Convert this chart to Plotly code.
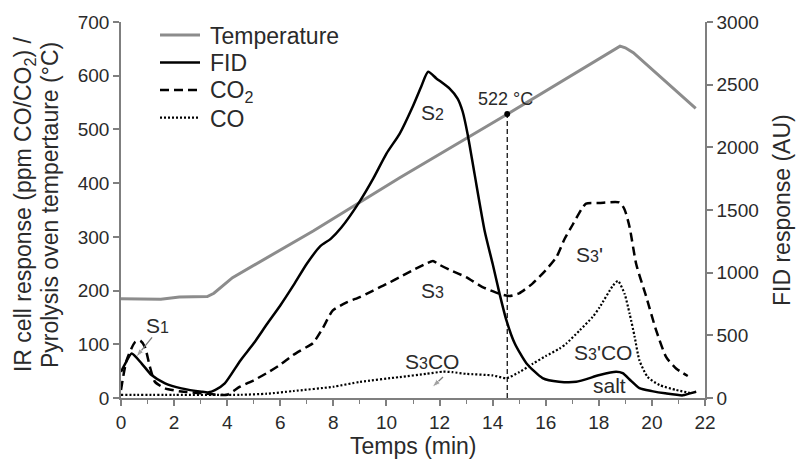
import numpy as np
import plotly.graph_objects as go

# ---------------- data ----------------
temp_t = [0, 1.5, 2.2, 3.25, 3.5, 4.2, 7.24, 10.5, 14.5, 18.6, 18.8, 19.0, 19.3, 21.65]
temp_v = [185, 184, 188, 189, 195, 224, 311, 410, 527, 650, 655, 652, 643, 539]

fid_t = [0, 0.15, 0.4, 0.78, 1.15, 1.66, 2.28, 3.04, 3.3, 3.54, 3.91, 4.5, 5.0, 5.5, 6.0,
         6.5, 7.0, 7.5, 7.9, 8.3, 9.0, 9.5, 10.0, 10.5, 11.0, 11.3, 11.57, 11.88, 12.38,
         12.68, 12.87, 13.06, 13.32, 13.7, 14.0, 14.26, 14.52, 14.83, 15.27, 15.88, 16.5,
         17.15, 18.03, 18.65, 18.9, 19.2, 19.53, 20.0, 20.5, 21.16, 21.4, 21.67]
fid_v = [209, 270, 355, 275, 183, 117, 77, 50, 45, 63, 117, 300, 436, 590, 738,
         900, 1071, 1210, 1270, 1360, 1571, 1750, 1950, 2110, 2330, 2480, 2603, 2550, 2468,
         2389, 2286, 2103, 1786, 1333, 1071, 833, 619, 437, 278, 159, 130,
         129, 183, 209, 198, 140, 79, 55, 37, 21, 35, 50]

co2_t = [0, 0.21, 0.53, 0.72, 0.9, 1.09, 1.28, 1.66, 2.28, 3.04, 3.6, 4.0, 4.48, 5.0, 5.48,
         6.0, 6.48, 7.0, 7.23, 7.6, 7.98, 8.5, 9.0, 9.5, 10.0, 10.5, 11.0, 11.5, 11.75,
         12.0, 12.4, 13.0, 13.6, 14.26, 14.64, 15.0, 15.5, 16.0, 16.4, 16.7, 17.02, 17.34,
         17.52, 18.0, 18.78, 18.97, 19.16, 19.41, 19.79, 20.16, 20.54, 20.91, 21.35]
co2_v = [15, 70, 104, 107, 95, 58, 30, 18, 12, 9, 6, 6, 21, 33, 46,
         62, 80, 95, 102, 130, 163, 178, 188, 200, 212, 225, 238, 250, 255,
         248, 238, 225, 207, 194, 190, 195, 213, 238, 262, 295, 323, 351,
         362, 363, 364, 351, 318, 249, 188, 126, 76, 55, 41]

co_t = [0, 2.0, 4.5, 5.5, 6.5, 8.0, 9.0, 10.5, 11.5, 12.13, 12.5, 13.0, 14.0, 14.52,
        15.0, 15.52, 16.0, 16.52, 16.77, 17.28, 17.77, 18.03, 18.53, 18.72, 18.97, 19.16,
        19.35, 19.53, 19.84, 20.29, 20.91, 21.48]
co_v = [6, 6, 6, 8, 13, 21, 30, 39, 45, 49, 48, 45, 42, 37,
        48, 64, 78, 92, 101, 126, 151, 169, 209, 218, 194, 157,
        114, 70, 39, 24, 15, 9]

MARK_T = 14.55          # time of the marked temperature
MARK_LABEL = "522 °C"

x_ticks = list(range(0, 23, 2))
left_ticks = list(range(0, 701, 100))
right_ticks = list(range(0, 3001, 500))

# ---------------- styling ----------------
FONT = "Liberation Sans, Arial, sans-serif"
AX = "#7f7f7f"
TXT = "#2a2a2a"
GRAY = "#8c8c8c"

fig = go.Figure()

fig.add_trace(go.Scatter(x=temp_t, y=temp_v, mode="lines", name="Temperature",
                         line=dict(color=GRAY, width=3), yaxis="y", showlegend=False))
fig.add_trace(go.Scatter(x=fid_t, y=fid_v, mode="lines", name="FID",
                         line=dict(color="black", width=2.5, shape="spline", smoothing=0.6),
                         yaxis="y2", showlegend=False))
fig.add_trace(go.Scatter(x=co2_t, y=co2_v, mode="lines", name="CO2",
                         line=dict(color="black", width=2.5, dash="9px,5px", shape="spline", smoothing=0.6),
                         yaxis="y", showlegend=False))
fig.add_trace(go.Scatter(x=co_t, y=co_v, mode="lines", name="CO",
                         line=dict(color="black", width=2.2, dash="2px,2px", shape="spline", smoothing=0.6),
                         yaxis="y", showlegend=False))

mark_temp = float(np.interp(MARK_T, temp_t, temp_v))
fig.add_trace(go.Scatter(x=[MARK_T, MARK_T], y=[0, mark_temp], mode="lines",
                         line=dict(color="black", width=1.2, dash="5px,3px"),
                         yaxis="y", showlegend=False, hoverinfo="skip"))
fig.add_trace(go.Scatter(x=[MARK_T], y=[mark_temp], mode="markers",
                         marker=dict(color="black", size=6), yaxis="y", showlegend=False))

# small gray pointer arrows (tail -> head)
for (tx, ty, hx, hy) in [(1.17, 113, 0.565, 76), (12.13, 39, 11.72, 20)]:
    fig.add_trace(go.Scatter(x=[tx, hx], y=[ty, hy], mode="lines+markers", yaxis="y",
                             line=dict(color="#7a7a7a", width=1.3),
                             marker=dict(symbol=["circle", "arrow"], size=[0.1, 9],
                                         angleref="previous", color="#7a7a7a"),
                             showlegend=False, hoverinfo="skip"))

# ---------------- manual legend ----------------
L = 121; R = 705; T = 20; B = 398
def px(x): return (x - L) / (R - L)
def py(y): return (B - y) / (B - T)

legend_items = [("Temperature", dict(color=GRAY, width=3)),
                ("FID", dict(color="black", width=2.5)),
                ("CO<sub>2</sub>", dict(color="black", width=2.5, dash="9px,5px")),
                ("CO", dict(color="black", width=2.2, dash="2px,2px"))]
shapes = []
annotations = []
for i, (lab, ln) in enumerate(legend_items):
    yy = 33 + i * 27.7
    shapes.append(dict(type="line", xref="paper", yref="paper",
                       x0=px(160), x1=px(200), y0=py(yy), y1=py(yy), line=ln))
    annotations.append(dict(xref="paper", yref="paper", x=px(208), y=py(yy + 1),
                            text=lab, showarrow=False, xanchor="left", yanchor="middle",
                            font=dict(family=FONT, size=23, color=TXT)))

# ---------------- peak labels ----------------
def sub(d):
    return '<span style="font-size:16px">' + d + '</span>'

peak_labels = [
    ("S" + sub("1"), 1.36, 135),
    ("S" + sub("2"), 11.72, 531),
    ("S" + sub("3"), 11.72, 200),
    ("S" + sub("3") + "'", 17.63, 268),
    ("S" + sub("3") + "CO", 11.72, 68),
    ("S" + sub("3") + "'CO", 18.16, 85),
    ("salt", 18.42, 24),
]
for txt, xx, yy in peak_labels:
    annotations.append(dict(xref="x", yref="y", x=xx, y=yy, text=txt, showarrow=False,
                            xanchor="center", yanchor="middle",
                            font=dict(family=FONT, size=21, color=TXT)))
annotations.append(dict(xref="x", yref="y", x=14.5, y=557, text=MARK_LABEL, showarrow=False,
                        xanchor="center", yanchor="middle",
                        font=dict(family=FONT, size=18, color=TXT)))

# axis titles
annotations.append(dict(xref="paper", yref="paper", x=px(24), y=py(204),
                        text="IR cell response (ppm CO/CO<sub>2</sub>) /", textangle=-90,
                        showarrow=False, xanchor="center", yanchor="middle",
                        font=dict(family=FONT, size=23, color=TXT)))
annotations.append(dict(xref="paper", yref="paper", x=px(50), y=py(204),
                        text="Pyrolysis oven tempertaure (°C)", textangle=-90,
                        showarrow=False, xanchor="center", yanchor="middle",
                        font=dict(family=FONT, size=23, color=TXT)))
annotations.append(dict(xref="paper", yref="paper", x=px(782), y=py(209),
                        text="FID response (AU)", textangle=-90,
                        showarrow=False, xanchor="center", yanchor="middle",
                        font=dict(family=FONT, size=23, color=TXT)))
annotations.append(dict(xref="paper", yref="paper", x=px(413), y=py(446),
                        text="Temps (min)", showarrow=False, xanchor="center", yanchor="middle",
                        font=dict(family=FONT, size=23, color=TXT)))

axis_common = dict(showline=True, linecolor=AX, linewidth=1.5, ticks="outside",
                   tickcolor=AX, tickwidth=1.5, showgrid=False, zeroline=False,
                   tickfont=dict(family=FONT, size=19, color=TXT))

fig.update_layout(
    width=797, height=459,
    margin=dict(l=L, r=797 - R, t=T, b=459 - B),
    paper_bgcolor="white", plot_bgcolor="white",
    showlegend=False,
    xaxis=dict(range=[0, 22], tickvals=x_ticks, ticklen=6,
               minor=dict(dtick=1, ticks="outside", ticklen=4, tickcolor=AX, tickwidth=1.2),
               **axis_common),
    yaxis=dict(range=[0, 700], tickvals=left_ticks, ticklen=6, **axis_common),
    yaxis2=dict(range=[0, 3000], tickvals=right_ticks, ticklen=6, overlaying="y",
                side="right", anchor="x", **axis_common),
    shapes=shapes,
    annotations=annotations,
)

fig.write_html("out.html", config={"displayModeBar": False},
               post_script="document.body.style.margin='0px';document.body.style.overflow='hidden';")
